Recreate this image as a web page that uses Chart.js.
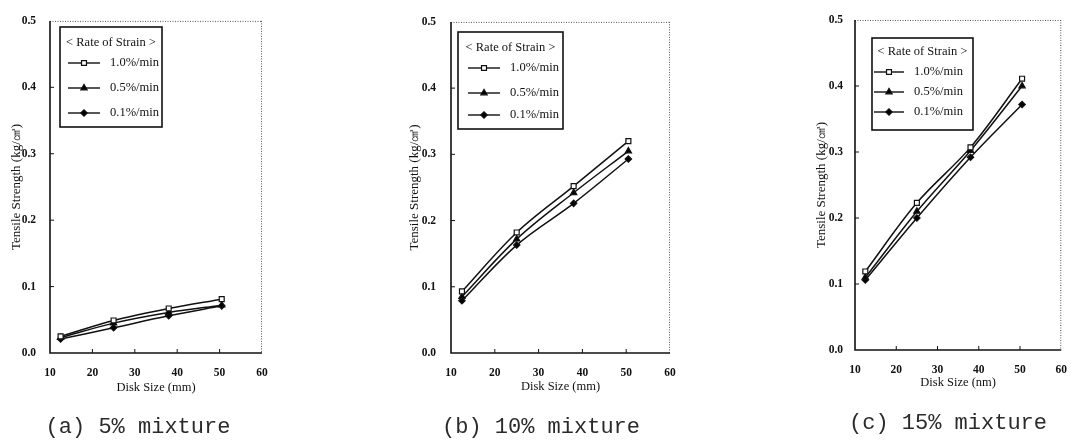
<!DOCTYPE html>
<html>
<head>
<meta charset="utf-8">
<script src="https://cdn.jsdelivr.net/npm/chart.js@4.4.1/dist/chart.umd.min.js"></script>
<style>
  html, body { margin: 0; padding: 0; background: #fff; }
  #wrap { position: relative; width: 1080px; height: 444px; overflow: hidden; }
  canvas { position: absolute; top: 0; }
  .cap { position: absolute; transform: translate(-50%, -50%); font-family: "Liberation Mono", monospace;
         font-size: 22px; color: #2a2a2a; white-space: nowrap; }
</style>
</head>
<body>
<div id="wrap">
  <canvas id="chartA" width="360" height="444" style="left:0px"></canvas>
  <canvas id="chartB" width="360" height="444" style="left:360px"></canvas>
  <canvas id="chartC" width="360" height="444" style="left:720px"></canvas>
  <div class="cap" style="left:138px; top:427px">(a) 5% mixture</div>
  <div class="cap" style="left:541px; top:427px">(b) 10% mixture</div>
  <div class="cap" style="left:948px; top:423px">(c) 15% mixture</div>
</div>
<script>
// disk sizes (mm)
const diskSizes = [12.5, 25, 38, 50.5];
const rateLabels = ["1.0%/min", "0.5%/min", "0.1%/min"];
const yTicks = [0, 0.1, 0.2, 0.3, 0.4, 0.5];

// (a) 5% mixture
const mix5Rate10 = [0.025, 0.049, 0.067, 0.081];
const mix5Rate05 = [0.023, 0.045, 0.061, 0.072];
const mix5Rate01 = [0.021, 0.038, 0.056, 0.071];

// (b) 10% mixture
const mix10Rate10 = [0.093, 0.182, 0.252, 0.320];
const mix10Rate05 = [0.085, 0.172, 0.242, 0.305];
const mix10Rate01 = [0.079, 0.163, 0.226, 0.293];

// (c) 15% mixture
const mix15Rate10 = [0.119, 0.223, 0.307, 0.411];
const mix15Rate05 = [0.110, 0.210, 0.302, 0.400];
const mix15Rate01 = [0.106, 0.200, 0.292, 0.372];

const SERIF = "'Liberation Serif', 'Times New Roman', serif";
const markers = [
  { pointStyle: "rect", backgroundColor: "#fff", radius: 3.5 },
  { pointStyle: "triangle", backgroundColor: "#000", radius: 3.6 },
  { pointStyle: "rectRot", backgroundColor: "#000", radius: 3.2 }
];

// frame: solid left/bottom axes, dotted top/right, small inward ticks
const framePlugin = {
  id: "frame",
  beforeDatasetsDraw(chart) {
    const { ctx, chartArea: a, scales } = chart;
    ctx.save();
    ctx.strokeStyle = "#555";
    ctx.lineWidth = 1;
    ctx.setLineDash([1, 1.5]);
    ctx.beginPath();
    ctx.moveTo(a.left, a.top + 0.5); ctx.lineTo(a.right, a.top + 0.5);
    ctx.moveTo(a.right - 0.5, a.top); ctx.lineTo(a.right - 0.5, a.bottom);
    ctx.stroke();
    ctx.setLineDash([]);
    ctx.strokeStyle = "#111";
    ctx.lineWidth = 1.6;
    ctx.beginPath();
    ctx.moveTo(a.left, a.top); ctx.lineTo(a.left, a.bottom); ctx.lineTo(a.right, a.bottom);
    ctx.stroke();
    ctx.lineWidth = 1;
    ctx.beginPath();
    for (let v = 20; v <= 50; v += 10) {
      const x = scales.x.getPixelForValue(v);
      ctx.moveTo(x, a.bottom); ctx.lineTo(x, a.bottom - 4);
    }
    yTicks.slice(1, -1).forEach(v => {
      const y = scales.y.getPixelForValue(v);
      ctx.moveTo(a.left, y); ctx.lineTo(a.left + 4, y);
    });
    ctx.stroke();
    ctx.restore();
  }
};

// legend box drawn inside the plot
const boxLegend = {
  id: "boxLegend",
  afterDraw(chart, args, opts) {
    const { ctx } = chart;
    const b = opts.box;
    ctx.save();
    ctx.fillStyle = "#fff";
    ctx.fillRect(b.l, b.t, b.r - b.l, b.b - b.t);
    ctx.strokeStyle = "#111";
    ctx.lineWidth = 1.6;
    ctx.strokeRect(b.l, b.t, b.r - b.l, b.b - b.t);
    ctx.fillStyle = "#111";
    ctx.font = "12.5px " + SERIF;
    ctx.textBaseline = "middle";
    ctx.textAlign = "center";
    ctx.fillText("< Rate of Strain >", (b.l + b.r) / 2, b.t + opts.titleDy);
    chart.data.datasets.forEach((ds, i) => {
      const y = b.t + opts.rows[i];
      const x0 = b.l + opts.lineX[0], x1 = b.l + opts.lineX[1];
      ctx.strokeStyle = "#111";
      ctx.lineWidth = 1.4;
      ctx.beginPath(); ctx.moveTo(x0, y); ctx.lineTo(x1, y); ctx.stroke();
      ctx.fillStyle = ds.pointBackgroundColor;
      ctx.lineWidth = 1.2;
      Chart.helpers.drawPoint(ctx, {
        pointStyle: ds.pointStyle, radius: ds.pointRadius, rotation: 0, borderWidth: 1.2
      }, (x0 + x1) / 2, y);
      ctx.fillStyle = "#111";
      ctx.textAlign = "left";
      ctx.fillText(ds.label, b.l + opts.textX, y);
    });
    ctx.restore();
  }
};

function makePanel(id, series, cfg) {
  const area = cfg.area;
  const datasets = series.map((vals, i) => ({
    label: rateLabels[i],
    data: diskSizes.map((x, k) => ({ x: x, y: vals[k] })),
    borderColor: "#111",
    borderWidth: 1.5,
    tension: 0.35,
    pointStyle: markers[i].pointStyle,
    pointRadius: markers[i].radius,
    pointBackgroundColor: markers[i].backgroundColor,
    pointBorderColor: "#111",
    pointBorderWidth: 1.2
  }));
  const layoutLeft = area.l - 50;
  return new Chart(document.getElementById(id), {
    type: "line",
    data: { datasets },
    plugins: [framePlugin, boxLegend],
    options: {
      responsive: false,
      animation: false,
      devicePixelRatio: 1,
      layout: { padding: { left: layoutLeft, top: area.t, right: 360 - area.r, bottom: 0 } },
      plugins: {
        legend: { display: false },
        tooltip: { enabled: false },
        boxLegend: cfg.legend
      },
      scales: {
        x: {
          type: "linear", min: 10, max: 60,
          afterFit: s => { s.height = 444 - area.b; },
          grid: { display: false, drawTicks: false },
          border: { display: false },
          ticks: { stepSize: 10, padding: 13, color: "#111",
                   font: { family: SERIF, size: 11.5, weight: "bold" } },
          title: { display: true, text: cfg.xTitle, color: "#111",
                   font: { family: SERIF, size: 12.5 },
                   padding: { top: 0, bottom: 444 - 7.5 - cfg.xTitleY } }
        },
        y: {
          min: 0, max: 0.5,
          afterFit: s => { s.width = 50; },
          afterBuildTicks: s => { s.ticks = yTicks.map(v => ({ value: v })); },
          grid: { display: false, drawTicks: false },
          border: { display: false },
          ticks: { padding: cfg.yTickPad, color: "#111",
                   callback: v => v.toFixed(1),
                   font: { family: SERIF, size: 11.5, weight: "bold" } },
          title: { display: true, text: "Tensile Strength (kg/㎠)", color: "#111",
                   font: { family: SERIF, size: 13 },
                   padding: { top: cfg.yTitleX - layoutLeft - 7.8, bottom: 0 } }
        }
      }
    }
  });
}

makePanel("chartA", [mix5Rate10, mix5Rate05, mix5Rate01], {
  area: { l: 50, t: 15, r: 262, b: 353 },
  xTitle: "Disk Size (mm)", xTitleY: 388, yTitleX: 17, yTickPad: 14,
  legend: { box: { l: 60, t: 27, r: 162, b: 127 }, titleDy: 16, rows: [36, 61, 86],
            lineX: [8, 40], textX: 50 }
});
makePanel("chartB", [mix10Rate10, mix10Rate05, mix10Rate01], {
  area: { l: 91, t: 17, r: 310, b: 353 },
  xTitle: "Disk Size (mm)", xTitleY: 387, yTitleX: 55, yTickPad: 15,
  legend: { box: { l: 98, t: 32, r: 203, b: 129 }, titleDy: 16, rows: [36, 61, 83],
            lineX: [10, 42], textX: 52 }
});
makePanel("chartC", [mix15Rate10, mix15Rate05, mix15Rate01], {
  area: { l: 135, t: 20, r: 353, b: 350 },
  xTitle: "Disk Size (nm)", xTitleY: 383, yTitleX: 102, yTickPad: 12,
  legend: { box: { l: 152, t: 38, r: 253, b: 130 }, titleDy: 14, rows: [34, 54, 74],
            lineX: [2, 32], textX: 42 }
});
</script>
</body>
</html>
